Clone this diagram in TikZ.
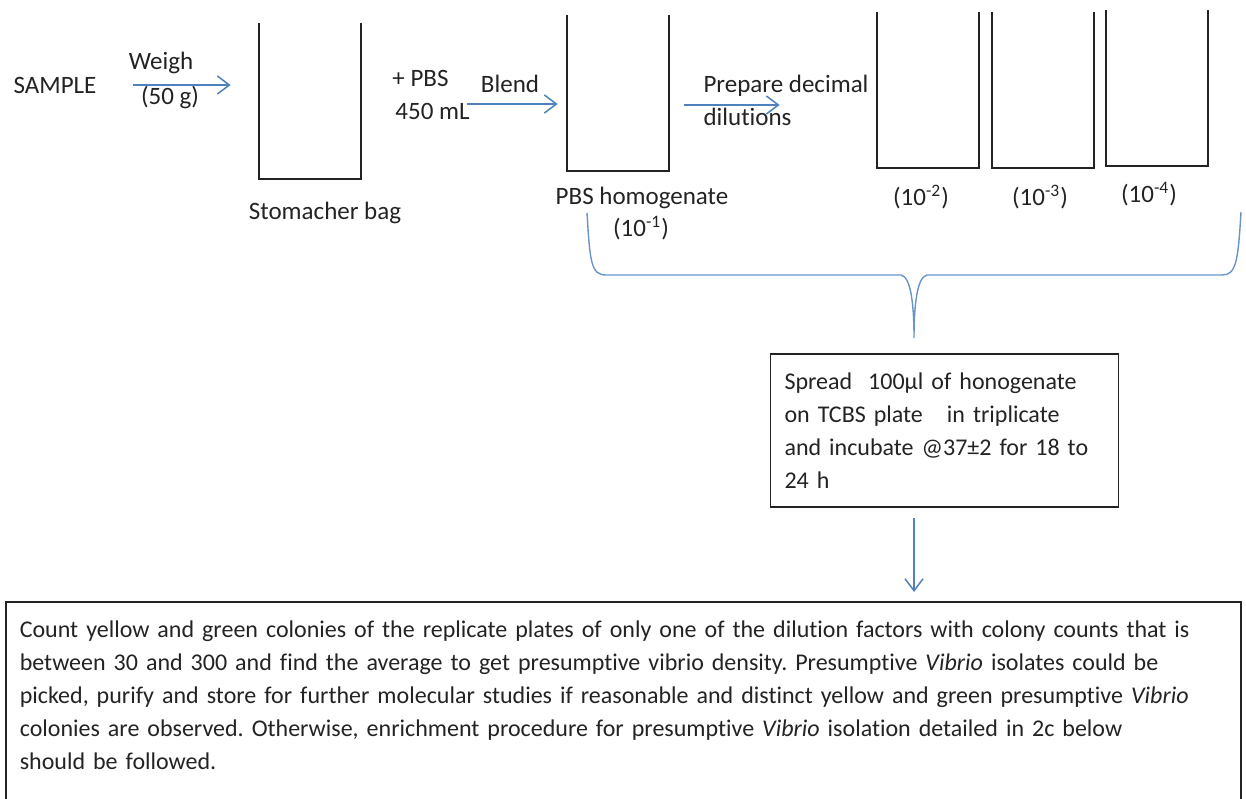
\documentclass[tikz,border=0pt]{standalone}
\usepackage{fontspec}
\setmainfont{Carlito}[Ligatures=NoCommon]
\usetikzlibrary{arrows.meta,positioning}
\definecolor{arrowblue}{RGB}{79,129,189}
\definecolor{inkgray}{RGB}{35,35,35}
\tikzset{
  flow/.style={arrowblue, line width=0.75pt, -{Straight Barb[length=6pt,width=9pt]}},
  brace/.style={arrowblue!85, line width=0.7pt},
  bagline/.style={inkgray, line width=1pt},
  bag/.style={minimum width=51pt, minimum height=78pt, inner sep=0pt},
  stepbox/.style={draw=inkgray, line width=0.8pt, align=left, inner xsep=7pt, inner ysep=4pt,
    font=\fontsize{12}{16.5}\selectfont\frenchspacing},
}

\begin{document}
\begin{tikzpicture}[x=0.5pt, y=-0.5pt, font=\fontsize{12.5}{16.5}\selectfont, text=inkgray]
    \useasboundingbox (0,0) rectangle (1246,798);
    \clip (0,0) rectangle (1246,798);

    % Beutel
    \node[bag] (bag1) at (310,101) {};
    \node[bag] (bag2) at (618,93) {};
    \node[bag] (bag3) at (928,90) {};
    \node[bag] (bag4) at (1043,90) {};
    \node[bag] (bag5) at (1157,88) {};
    \foreach \b in {bag1,bag2,bag3,bag4,bag5}
        \draw[bagline] (\b.north west) |- (\b.south east) -- (\b.north east);

    % Beschriftungen
    \node (sample) at (55,85) {SAMPLE};
    \node (weigh) at (161,63) {Weigh};
    \node (gram) at (170,98) {(50 g)};
    \node (stom) at (325,213) {Stomacher bag};
    \node[align=left] (pbs) at (431,95) {+ PBS\\\hspace{1.5pt}450 mL};
    \node (blend) at (510,84) {Blend};
    \node (homog) at (642,198) {PBS homogenate};
    \node (d1) at (641,228) {(10\textsuperscript{-1})};
    \node[align=left] (prep) at (786,100) {Prepare decimal\\dilutions};
    \node (d2) at (921,197) {(10\textsuperscript{-2})};
    \node (d3) at (1040,197) {(10\textsuperscript{-3})};
    \node (d4) at (1149,194) {(10\textsuperscript{-4})};

    % Kaesten
    \node[stepbox, text width=160pt, minimum height=76.5pt] (spread) at (944.5,430.5)
        {Spread~ 100µl of honogenate\\on TCBS plate~~ in triplicate\\and incubate @37±2 for 18 to\\24 h};
    \node[stepbox, anchor=north west, text width=603.5pt, inner ysep=9.5pt] (count) at (5,601)
        {Count yellow and green colonies of the replicate plates of only one of the dilution factors with colony counts that is\\
         between 30 and 300 and find the average to get presumptive vibrio density. Presumptive \textit{Vibrio} isolates could be\\
         picked, purify and store for further molecular studies if reasonable and distinct yellow and green presumptive \textit{Vibrio}\\
         colonies are observed. Otherwise, enrichment procedure for presumptive \textit{Vibrio} isolation detailed in 2c below\\
         should be followed.\\ \mbox{}};

    % Pfeile
    \draw[flow, shorten <=15pt, shorten >=14pt] (sample.east) -- (sample.east -| bag1.west);
    \draw[flow, shorten >=4.5pt] ([shift={(-5pt,-4.5pt)}]pbs.east) coordinate (p2) -- (p2 -| bag2.west);
    \draw[flow, shorten >=48.5pt] ([shift={(-6pt,-2.5pt)}]prep.west) coordinate (p3) -- (p3 -| bag3.west);

    % Klammer
    \coordinate (tip) at (914,338);
    \draw[brace] (587,213) .. controls (590,262) and (591,275) .. (606,275) -- (901,275)
        .. controls (911,277) and (914,305) .. (tip)
        .. controls (914,305) and (917,277) .. (927,275) -- (1222,275)
        .. controls (1236,275) and (1238,262) .. (1241,212);
    \draw[flow, shorten <=5pt, shorten >=4.5pt] (spread.south -| tip) -- (count.north -| tip);
\end{tikzpicture}
\end{document}
